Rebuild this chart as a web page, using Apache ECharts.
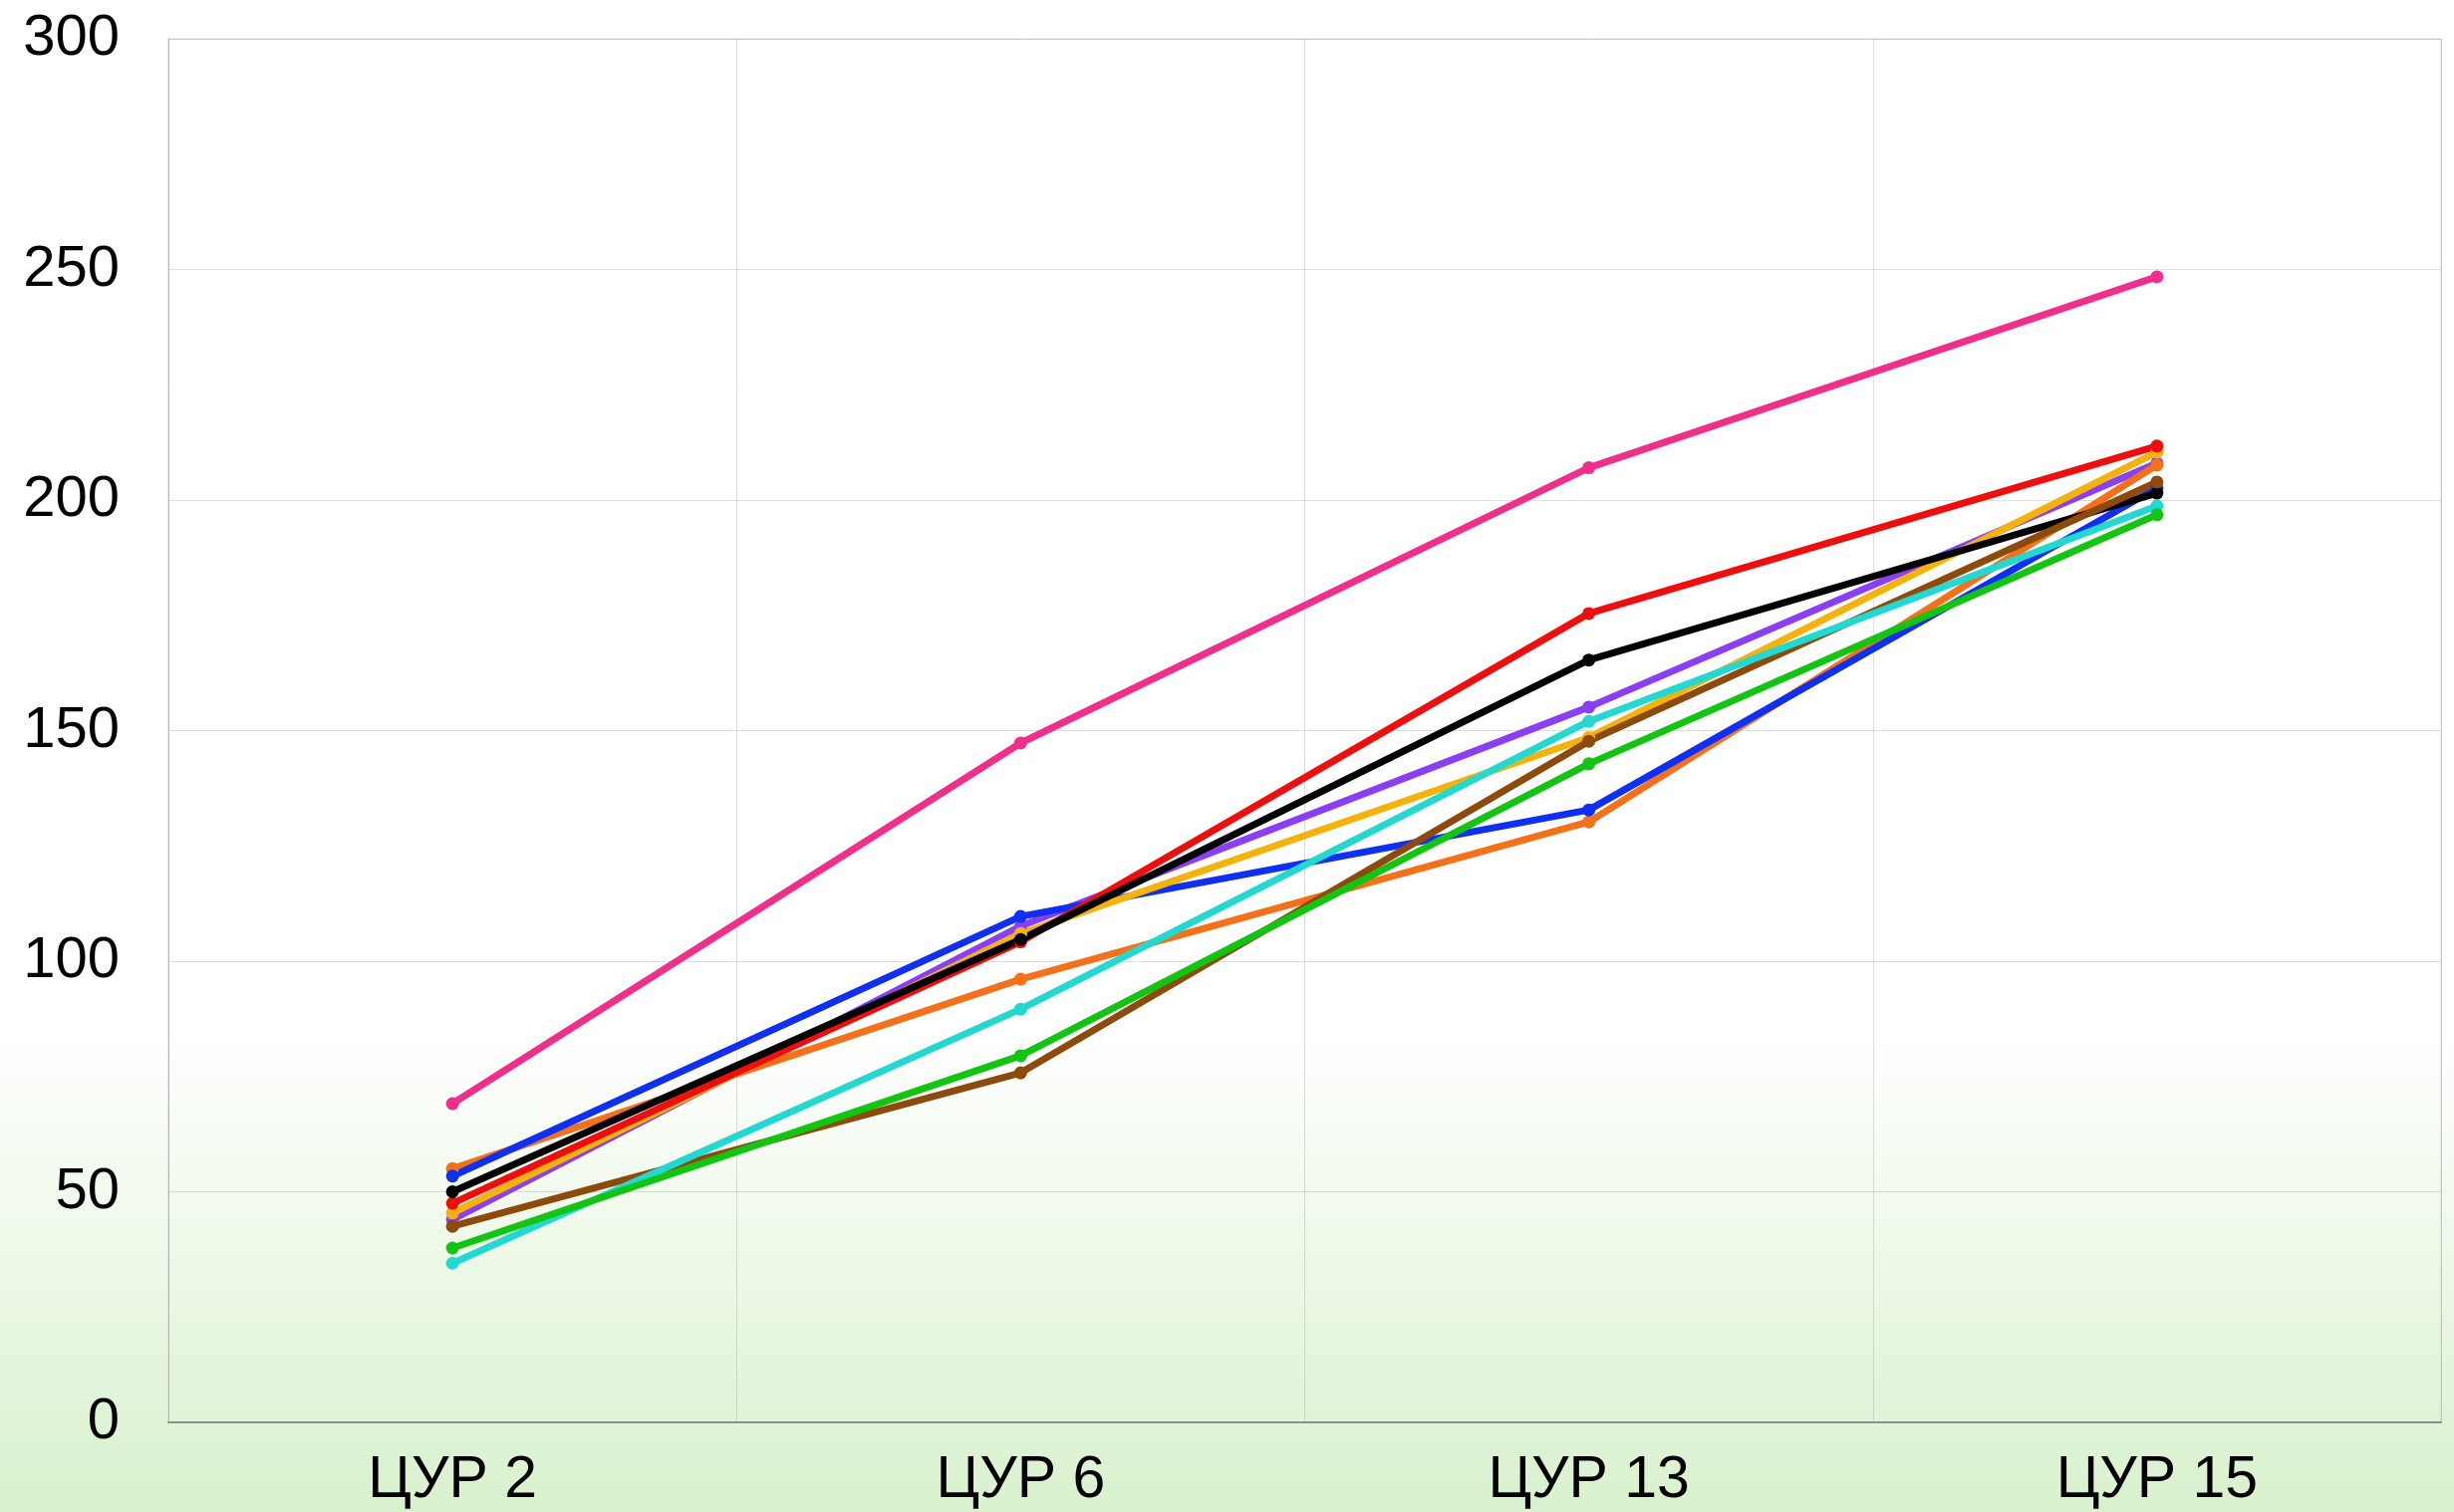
<!DOCTYPE html>
<html>
<head>
<meta charset="utf-8">
<script src="https://cdn.jsdelivr.net/npm/echarts@6/dist/echarts.min.js"></script>
<style>
  html, body { margin: 0; padding: 0; }
  #chart { width: 2463px; height: 1518px; }
</style>
</head>
<body>
<div id="chart"></div>
<script>
var categories = ["ЦУР 2", "ЦУР 6", "ЦУР 13", "ЦУР 15"];
var yTicks = [0, 50, 100, 150, 200, 250, 300];

// values, drawn bottom -> top
var purple = [44, 107.6, 155.1, 208];
var orange = [55, 96.1, 130.2, 207.6];
var blue   = [53.4, 109.7, 132.8, 202.6];
var amber  = [45.4, 106, 148.5, 210.4];
var red    = [47.5, 104.2, 175.4, 211.7];
var black  = [50, 104.7, 165.3, 201.5];
var brown  = [42.5, 75.8, 147.7, 203.9];
var cyan   = [34.5, 89.6, 152, 198.7];
var green  = [37.8, 79.5, 142.8, 196.8];
var pink   = [69.1, 147.3, 207, 248.4];

var seriesList = [
  { name: "purple", data: purple, color: "#8a3ff5" },
  { name: "orange", data: orange, color: "#f4711a" },
  { name: "blue",   data: blue,   color: "#0f2ff2" },
  { name: "amber",  data: amber,  color: "#f4b30c" },
  { name: "red",    data: red,    color: "#ef0e0e" },
  { name: "black",  data: black,  color: "#000000" },
  { name: "brown",  data: brown,  color: "#8c4a0c" },
  { name: "cyan",   data: cyan,   color: "#22d8d0" },
  { name: "green",  data: green,  color: "#13c413" },
  { name: "pink",   data: pink,   color: "#f02f8b" }
];

var chart = echarts.init(document.querySelector("#chart"));
chart.setOption({
  backgroundColor: {
    type: "linear", x: 0, y: 0, x2: 0, y2: 1,
    colorStops: [
      { offset: 0, color: "#ffffff" },
      { offset: 0.68, color: "#ffffff" },
      { offset: 1, color: "#d9f1ce" }
    ]
  },
  animation: false,
  grid: {
    left: 169, right: 13, top: 39, bottom: 90,
    show: true, borderColor: "#d4d4d4", borderWidth: 1
  },
  xAxis: {
    type: "category",
    data: categories,
    boundaryGap: true,
    axisLine: { lineStyle: { color: "#8c8c8c", width: 2 } },
    axisTick: { show: false },
    splitLine: { show: true, lineStyle: { color: "rgba(0,0,0,0.12)", width: 1 } },
    axisLabel: {
      color: "#000", fontSize: 59, fontFamily: "Liberation Sans", margin: 29
    }
  },
  yAxis: {
    type: "value",
    min: yTicks[0],
    max: yTicks[yTicks.length - 1],
    interval: yTicks[1] - yTicks[0],
    axisLine: { show: true, lineStyle: { color: "#b5b5b5", width: 1 } },
    axisTick: { show: false },
    splitLine: { lineStyle: { color: "rgba(0,0,0,0.12)", width: 1 } },
    axisLabel: {
      color: "#000", fontSize: 58, fontFamily: "Liberation Sans", margin: 49
    }
  },
  series: seriesList.map(function (s) {
    return {
      name: s.name,
      type: "line",
      data: s.data,
      symbol: "circle",
      symbolSize: 13,
      lineStyle: { width: 7, color: s.color },
      itemStyle: { color: s.color }
    };
  })
});
</script>
</body>
</html>
